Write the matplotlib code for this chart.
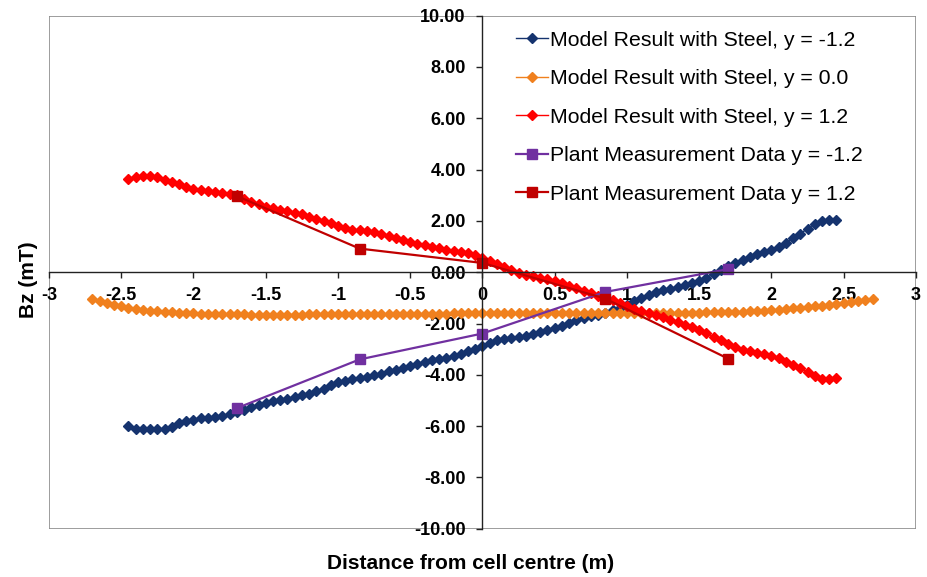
import numpy as np
import matplotlib
matplotlib.use("Agg")
import matplotlib.pyplot as plt
from matplotlib.patches import Rectangle
from matplotlib.ticker import FormatStrFormatter, FuncFormatter

plt.rcParams["font.family"] = ["Liberation Sans", "DejaVu Sans"]

# model results, 0.05 m spacing
x_model = np.round(np.arange(-2.45, 2.4501, 0.05), 2)
x_model_mid = np.round(np.arange(-2.70, 2.7001, 0.05), 2)

bz_model_neg = [
    -6.00, -6.10, -6.12, -6.12, -6.12, -6.10, -6.02, -5.88, -5.82, -5.76,
    -5.70, -5.67, -5.64, -5.60, -5.54, -5.45, -5.36, -5.27, -5.18, -5.10,
    -5.04, -4.99, -4.96, -4.88, -4.80, -4.73, -4.64, -4.54, -4.40, -4.30,
    -4.24, -4.18, -4.13, -4.08, -4.02, -3.95, -3.87, -3.80, -3.73, -3.65,
    -3.57, -3.49, -3.43, -3.38, -3.33, -3.27, -3.18, -3.08, -2.98, -2.86,
    -2.75, -2.66, -2.60, -2.56, -2.52, -2.48, -2.42, -2.34, -2.25, -2.16,
    -2.08, -1.98, -1.87, -1.78, -1.72, -1.66, -1.58, -1.49, -1.38, -1.27,
    -1.14, -1.00, -0.88, -0.79, -0.71, -0.64, -0.56, -0.50, -0.42, -0.34,
    -0.22, -0.06, 0.10, 0.24, 0.37, 0.48, 0.60, 0.70, 0.79, 0.88,
    1.00, 1.15, 1.32, 1.50, 1.70, 1.88, 2.00, 2.05, 2.02,
]

bz_model_mid = [
    -1.03, -1.12, -1.20, -1.27, -1.33, -1.38, -1.43, -1.47, -1.50, -1.53,
    -1.55, -1.57, -1.59, -1.60, -1.61, -1.62, -1.62, -1.63, -1.63, -1.64,
    -1.64, -1.64, -1.65, -1.65, -1.65, -1.65, -1.65, -1.65, -1.65, -1.65,
    -1.64, -1.64, -1.64, -1.64, -1.64, -1.64, -1.64, -1.63, -1.63, -1.63,
    -1.63, -1.63, -1.63, -1.63, -1.62, -1.62, -1.62, -1.62, -1.62, -1.62,
    -1.61, -1.61, -1.61, -1.61, -1.61,
    -1.60, -1.60, -1.60, -1.60, -1.60, -1.60, -1.60, -1.60, -1.60, -1.60,
    -1.59, -1.59, -1.59, -1.59, -1.59, -1.59, -1.59, -1.59, -1.59, -1.59,
    -1.59, -1.59, -1.59, -1.59, -1.59, -1.59, -1.58, -1.58, -1.58, -1.58,
    -1.57, -1.57, -1.56, -1.56, -1.55, -1.54, -1.53, -1.52, -1.50, -1.48,
    -1.46, -1.44, -1.41, -1.39, -1.36, -1.33, -1.30, -1.27, -1.23, -1.19,
    -1.15, -1.11, -1.07, -1.03,
]

bz_model_pos = [
    3.62, 3.72, 3.75, 3.75, 3.72, 3.60, 3.50, 3.42, 3.33, 3.26,
    3.22, 3.18, 3.14, 3.10, 3.06, 3.00, 2.86, 2.74, 2.64, 2.56,
    2.50, 2.44, 2.38, 2.32, 2.25, 2.16, 2.07, 1.98, 1.90, 1.80,
    1.72, 1.66, 1.63, 1.62, 1.58, 1.50, 1.42, 1.33, 1.25, 1.18,
    1.11, 1.05, 0.99, 0.93, 0.88, 0.84, 0.80, 0.74, 0.66, 0.56,
    0.44, 0.32, 0.20, 0.08, -0.02, -0.10, -0.16, -0.22, -0.28, -0.35,
    -0.43, -0.52, -0.62, -0.72, -0.82, -0.91, -1.00, -1.09, -1.20, -1.32,
    -1.44, -1.53, -1.60, -1.67, -1.75, -1.85, -1.95, -2.05, -2.15, -2.26,
    -2.38, -2.52, -2.66, -2.80, -2.92, -3.02, -3.09, -3.14, -3.20, -3.26,
    -3.36, -3.49, -3.62, -3.75, -3.90, -4.05, -4.15, -4.18, -4.12,
]

# plant measurements
x_meas = [-1.7, -0.85, 0.0, 0.85, 1.7]
bz_meas_neg = [-5.30, -3.40, -2.39, -0.77, 0.12]
bz_meas_pos = [2.97, 0.92, 0.36, -1.03, -3.37]

labels = [
    "Model Result with Steel, y = -1.2",
    "Model Result with Steel, y = 0.0",
    "Model Result with Steel, y = 1.2",
    "Plant Measurement Data y = -1.2",
    "Plant Measurement Data y = 1.2",
]

fig = plt.figure(figsize=(9.28, 5.77), dpi=100)
ax = fig.add_axes([0.0528, 0.0837, 0.9342, 0.8891])

ax.plot(x_model, bz_model_neg, color="#15336e", lw=1, marker="D", ms=4.6, label=labels[0])
ax.plot(x_model_mid, bz_model_mid, color="#f0801e", lw=1, marker="D", ms=4.6, label=labels[1])
ax.plot(x_model, bz_model_pos, color="#ff0000", lw=1, marker="D", ms=4.6, label=labels[2])
ax.plot(x_meas, bz_meas_neg, color="#7030a0", lw=1.6, marker="s", ms=7.5, label=labels[3])
ax.plot(x_meas, bz_meas_pos, color="#c00000", lw=1.6, marker="s", ms=7.5, label=labels[4])

ax.set_xlim(-3, 3)
ax.set_ylim(-10, 10)
ax.set_xticks(np.arange(-3, 3.01, 0.5))
ax.set_yticks(np.arange(-10, 10.01, 2))
ax.xaxis.set_major_formatter(FuncFormatter(lambda v, p: "%g" % v))
ax.yaxis.set_major_formatter(FormatStrFormatter("%.2f"))

# axes through the origin, grey frame round the plot
ax.spines["left"].set_position(("data", 0))
ax.spines["bottom"].set_position(("data", 0))
ax.spines["right"].set_visible(False)
ax.spines["top"].set_visible(False)
for s in ["left", "bottom"]:
    ax.spines[s].set_color("#222222")
    ax.spines[s].set_linewidth(1)
ax.add_patch(Rectangle((0, 0), 1, 1, transform=ax.transAxes, fill=False,
                       edgecolor="#8c8c8c", lw=1.2, zorder=0))

ax.tick_params(axis="both", direction="out", length=4, width=1, color="#222222")
ax.tick_params(axis="y", pad=8)
ax.tick_params(axis="x", pad=7)
for t in ax.get_xticklabels() + ax.get_yticklabels():
    t.set_fontsize(13)
    t.set_fontweight("bold")

ax.set_xlabel("Distance from cell centre (m)", fontsize=15, fontweight="bold")
ax.set_ylabel("Bz (mT)", fontsize=15, fontweight="bold")
ax.xaxis.set_label_coords(0.486, -0.067)
ax.yaxis.set_label_coords(-0.024, 0.485)
ax.xaxis.label.set_va("center")
ax.yaxis.label.set_va("center")

ax.legend(loc="upper left", bbox_to_anchor=(0.539, 0.971), frameon=False,
          fontsize=15.3, borderpad=0, borderaxespad=0, handlelength=1.5,
          handletextpad=0.1, labelspacing=0.92, markerscale=1.0)

fig.savefig("out.png", dpi=100)
